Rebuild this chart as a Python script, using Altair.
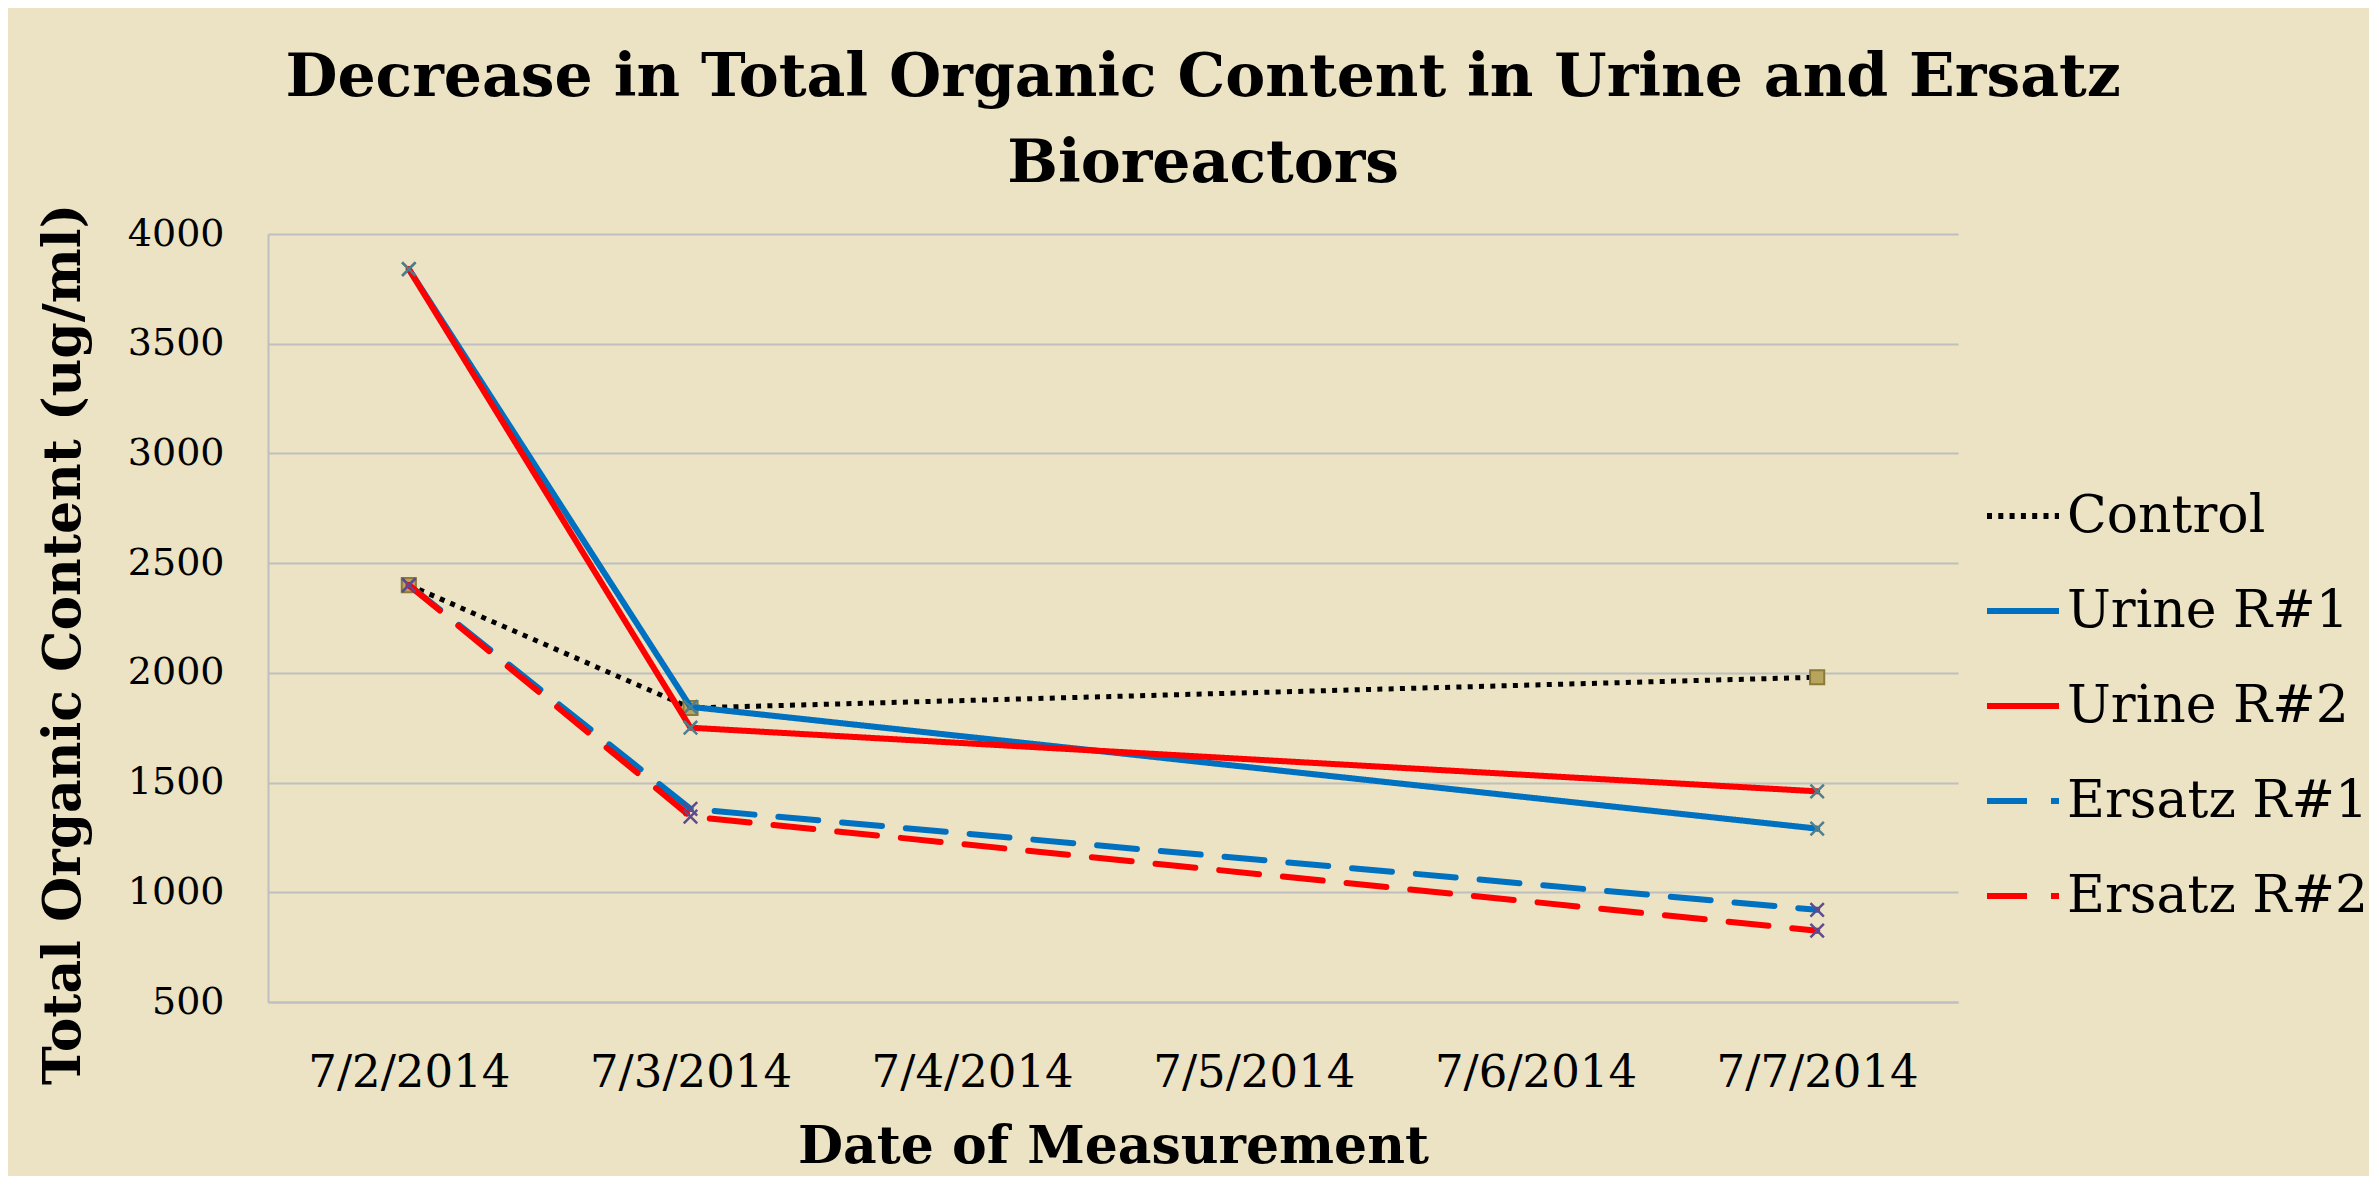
import altair as alt
import pandas as pd

# ---- data ----
dates = ["7/2/2014", "7/3/2014", "7/4/2014", "7/5/2014", "7/6/2014", "7/7/2014"]
measure_dates = ["7/2/2014", "7/3/2014", "7/7/2014"]
series = ["Control", "Urine R#1", "Urine R#2", "Ersatz R#1", "Ersatz R#2"]
control = [2400, 1840, 1980]
urine_r1 = [3840, 1845, 1290]
urine_r2 = [3840, 1750, 1460]
ersatz_r1 = [2400, 1380, 920]
ersatz_r2 = [2400, 1345, 825]
y_ticks = [500, 1000, 1500, 2000, 2500, 3000, 3500, 4000]

values = {
    "Control": control,
    "Urine R#1": urine_r1,
    "Urine R#2": urine_r2,
    "Ersatz R#1": ersatz_r1,
    "Ersatz R#2": ersatz_r2,
}
rows = []
for s in series:
    for d, v in zip(measure_dates, values[s]):
        rows.append({"series": s, "date": d, "value": v})
df = pd.DataFrame(rows)

FONT = "DejaVu Serif"
line_colors = ["#000000", "#0070C0", "#FF0000", "#0070C0", "#FF0000"]
dashes = [[5, 6.3], [1, 0], [1, 0], [40, 24], [40, 24]]

x_enc = alt.X(
    "date:O",
    scale=alt.Scale(type="point", domain=dates, padding=0.5),
    axis=alt.Axis(
        title="Date of Measurement",
        labelAngle=0,
        labelLimit=0,
        ticks=False,
        grid=False,
        domainColor="#BFBFBF",
        domainWidth=2,
        labelFontSize=45,
        labelPadding=48,
        titleFontSize=52,
        titleFontWeight="bold",
        titlePadding=26,
    ),
)
y_enc = alt.Y(
    "value:Q",
    scale=alt.Scale(domain=[500, 4000], nice=False, zero=False),
    axis=alt.Axis(
        title="Total Organic Content (ug/ml)",
        values=y_ticks,
        format="d",
        ticks=False,
        grid=True,
        gridColor="#BFBFBF",
        gridWidth=2,
        domainColor="#BFBFBF",
        domainWidth=2,
        labelFontSize=38,
        labelPadding=44,
        labelLimit=0,
        titleFontSize=52,
        titleFontWeight="bold",
        titlePadding=37,
        titleLimit=0,
        titleY=410,
    ),
)
legend = alt.Legend(
    title=None,
    orient="none",
    legendX=1716,
    legendY=243,
    symbolType="stroke",
    symbolSize=5184,
    symbolStrokeWidth=6,
    labelFontSize=52,
    labelFont=FONT,
    labelColor="black",
    labelOffset=5,
    labelLimit=0,
    rowPadding=30,
)
color_enc = alt.Color(
    "series:N",
    scale=alt.Scale(domain=series, range=line_colors),
    legend=legend,
)
dash_enc = alt.StrokeDash(
    "series:N",
    scale=alt.Scale(domain=series, range=dashes),
    legend=legend,
)

base = alt.Chart(df)

layers = []
marker_colors = {
    "Urine R#1": "#4E7D8B",
    "Urine R#2": "#4E7D8B",
    "Ersatz R#1": "#5E4A8E",
    "Ersatz R#2": "#5E4A8E",
}
for s in series:
    sub = base.transform_filter(alt.datum.series == s)
    if s == "Control":
        ln = sub.mark_line(strokeWidth=5, strokeCap="butt").encode(
            x=x_enc, y=y_enc, color=color_enc, strokeDash=dash_enc
        )
        pt = sub.mark_square(
            size=200, color="#B7A45D", stroke="#8C7A3A", strokeWidth=2, opacity=1
        ).encode(x=x_enc, y=y_enc)
    else:
        ln = sub.mark_line(strokeWidth=6, strokeCap="round").encode(
            x=x_enc, y=y_enc, color=color_enc, strokeDash=dash_enc
        )
        pt = sub.mark_point(
            shape="M-1,-1L1,1M-1,1L1,-1",
            size=180,
            filled=False,
            strokeWidth=2.5,
            opacity=1,
        ).encode(x=x_enc, y=y_enc, color=alt.value(marker_colors[s]))
    layers += [ln, pt]

chart = (
    alt.layer(*layers)
    .properties(
        width=1690,
        height=768,
        background="#EBE3C3",
        padding={"left": 29, "top": 40, "right": 0, "bottom": 4},
        title=alt.TitleParams(
            text=["Decrease in Total Organic Content in Urine and Ersatz", "Bioreactors"],
            font=FONT,
            fontSize=60,
            fontWeight="bold",
            color="black",
            anchor="middle",
            frame="bounds",
            lineHeight=86,
            offset=8,
        ),
    )
    .configure_view(stroke=None)
    .configure_axis(labelFont=FONT, titleFont=FONT, labelColor="black", titleColor="black")
)

chart.save("out.html", embed_options={"renderer": "svg", "actions": False})
